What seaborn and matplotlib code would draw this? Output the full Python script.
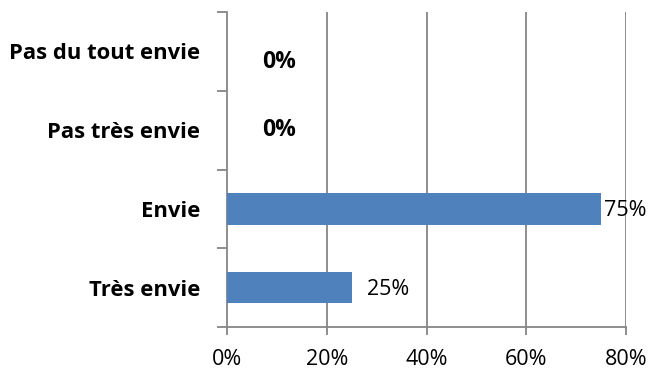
import matplotlib
matplotlib.use("Agg")
import matplotlib.pyplot as plt
import seaborn as sns
import pandas as pd
import numpy as np

categories = ["Pas du tout envie", "Pas très envie", "Envie", "Très envie"]
values = [0, 0, 75, 25]
value_labels = ["0%", "0%", "75%", "25%"]
label_bold = [True, True, False, False]
label_dx = [35, 35, 3, 15]   # px offset from bar end
label_dy = [-11, 0, -2, -2]  # px vertical offset
xticks = [0, 20, 40, 60, 80]
xtick_labels = ["0%", "20%", "40%", "60%", "80%"]

sns.set_theme(style="white")
plt.rcParams["font.family"] = ["Open Sans", "DejaVu Sans"]

df = pd.DataFrame({"cat": categories, "val": values})

fig = plt.figure(figsize=(6.65, 3.76), dpi=100)
ax = fig.add_axes([227/665, 1-327/376, 399/665, 315/376])

sns.barplot(data=df, x="val", y="cat", order=categories, color="#4F81BD",
            saturation=1, width=0.4, linewidth=0, ax=ax, zorder=3)

grid_c = "#868686"
ax.set_xlim(0, 80)
ax.set_ylim(3.5, -0.5)
ax.set_xticks(xticks)
ax.set_xticklabels(xtick_labels, fontsize=15.5, color="black")
for x in xticks[1:]:
    ax.axvline(x, color=grid_c, lw=1.3, zorder=1)

ax.set_yticks(range(len(categories)))
ax.set_yticklabels(categories, fontsize=15.8, fontweight="bold", color="black")
ax.tick_params(axis="y", which="major", length=0, pad=19.5)
ax.set_yticks(np.arange(-0.5, len(categories), 1), minor=True)
ax.tick_params(axis="y", which="minor", length=7, width=1.3, color=grid_c, left=True)
ax.tick_params(axis="x", which="major", length=6, width=1.3, color=grid_c, bottom=True, pad=10)

for s in ["top", "right"]:
    ax.spines[s].set_visible(False)
for s in ["left", "bottom"]:
    ax.spines[s].set_color(grid_c)
    ax.spines[s].set_linewidth(1.3)

ax.set_xlabel("")
ax.set_ylabel("")

for i, (v, lab, b, dx, dy) in enumerate(zip(values, value_labels, label_bold, label_dx, label_dy)):
    ax.annotate(lab, xy=(v, i), xytext=(dx * 0.72, dy * 0.72), textcoords="offset points",
                ha="left", va="center", fontsize=16.5 if b else 15.5,
                fontweight="bold" if b else "normal", color="black", zorder=4)

fig.savefig("out.png", dpi=100)
